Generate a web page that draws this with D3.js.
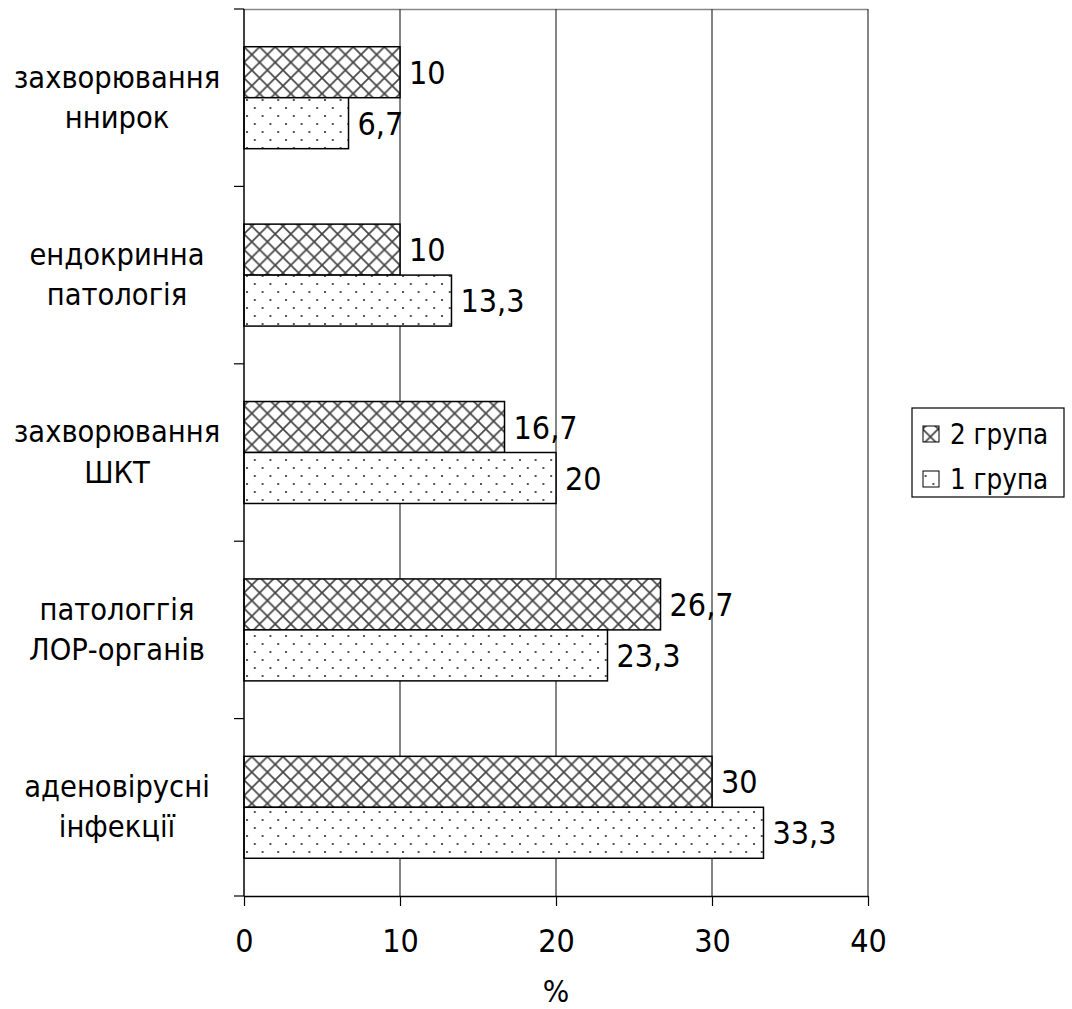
<!DOCTYPE html>
<html><head><meta charset="utf-8">
<script src="https://cdn.jsdelivr.net/npm/d3@7"></script>
<style>body{margin:0;background:#fff}svg{display:block}</style>
</head><body>
<svg id="c" width="1072" height="1009"></svg>
<script>
const categories = [["захворювання","ннирок"],["ендокринна","патологія"],["захворювання","ШКТ"],["патологгія","ЛОР-органів"],["аденовірусні","інфекції"]];
const group2 = [10, 10, 16.7, 26.7, 30];
const group1 = [6.7, 13.3, 20, 23.3, 33.3];
const seriesNames = ["2 група", "1 група"];
const xTicks = [0, 10, 20, 30, 40];
const axisTitle = "%";

const FONT = "'DejaVu Sans Condensed','DejaVu Sans',sans-serif";
const svg = d3.select("#c");
const L = 244, R = 868, T = 9, B = 896;

const defs = svg.append("defs");
const ph = defs.append("pattern").attr("id","cross").attr("patternUnits","userSpaceOnUse")
  .attr("width",15.6).attr("height",15.6).attr("x",L).attr("y",0);
ph.append("rect").attr("width",15.6).attr("height",15.6).attr("fill","#fff");
ph.append("path").attr("d","M0,0L15.6,15.6M15.6,0L0,15.6M-2,13.6L2,17.6M13.6,-2L17.6,2")
  .attr("stroke","#444").attr("stroke-width",1.7);
const pd = defs.append("pattern").attr("id","dots").attr("patternUnits","userSpaceOnUse")
  .attr("width",15.6).attr("height",16).attr("x",L+2).attr("y",3);
pd.append("rect").attr("width",15.6).attr("height",16).attr("fill","#fff");
pd.append("rect").attr("x",0).attr("y",0).attr("width",2).attr("height",2).attr("fill","#555");
pd.append("rect").attr("x",7.8).attr("y",8).attr("width",2).attr("height",2).attr("fill","#555");

const x = d3.scaleLinear().domain([0,40]).range([L,R]);
const y = d3.scaleBand().domain(d3.range(categories.length)).range([T,B]).padding(0);
const sub = d3.scaleBand().domain([0,1]).range([0,y.bandwidth()]).paddingInner(0).paddingOuter(0.74);

// top border
svg.append("line").attr("x1",L).attr("x2",R).attr("y1",T+0.5).attr("y2",T+0.5).attr("stroke","#888").attr("stroke-width",1.5);
// gridlines
svg.append("g").selectAll("line").data(xTicks.slice(1)).join("line")
  .attr("x1",d=>x(d)).attr("x2",d=>x(d)).attr("y1",T).attr("y2",B)
  .attr("stroke","#333").attr("stroke-width",1.2);

const series = [group2, group1];
const pats = ["url(#cross)","url(#dots)"];
series.forEach((vals,si)=>{
  const g = svg.append("g");
  g.selectAll("rect").data(vals).join("rect")
    .attr("x",x(0)).attr("y",(d,i)=>y(i)+sub(si))
    .attr("width",d=>x(d)-x(0)).attr("height",sub.bandwidth())
    .attr("fill",pats[si]).attr("stroke","#000").attr("stroke-width",1.5);
  g.selectAll("text").data(vals).join("text")
    .attr("x",d=>x(d)+9).attr("y",(d,i)=>y(i)+sub(si)+sub.bandwidth()/2)
    .attr("dy","0.36em").attr("font-family",FONT).attr("font-size",32)
    .text(d=>String(d).replace(".",","));
});

// y axis
const ya = svg.append("g");
ya.append("line").attr("x1",L).attr("x2",L).attr("y1",T).attr("y2",B).attr("stroke","#000").attr("stroke-width",1.5);
ya.selectAll("line.t").data(d3.range(categories.length+1)).join("line").attr("class","t")
  .attr("x1",L-10).attr("x2",L).attr("y1",i=>T+i*y.step()).attr("y2",i=>T+i*y.step())
  .attr("stroke","#000").attr("stroke-width",1.2);
ya.selectAll("text").data(categories).join("text")
  .attr("x",117).attr("y",(d,i)=>y(i)+y.bandwidth()/2)
  .attr("text-anchor","middle").attr("font-family",FONT).attr("font-size",30.5)
  .each(function(d){
    const t=d3.select(this);
    t.append("tspan").attr("x",117).attr("dy","-0.33em").text(d[0]);
    t.append("tspan").attr("x",117).attr("dy","1.32em").text(d[1]);
  });

// x axis
const xa = svg.append("g").attr("transform",`translate(0,${B})`)
  .call(d3.axisBottom(x).tickValues(xTicks).tickSize(10).tickPadding(23).tickSizeOuter(0));
xa.select(".domain").attr("stroke","#000").attr("stroke-width",1.5);
xa.selectAll(".tick line").attr("stroke","#000").attr("stroke-width",1.2);
xa.selectAll(".tick text").attr("font-family",FONT).attr("font-size",32).attr("fill","#000");

svg.append("text").attr("x",(L+R)/2).attr("y",1002).attr("text-anchor","middle")
  .attr("font-family",FONT).attr("font-size",31).text(axisTitle);

// legend
const lg = svg.append("g");
lg.append("rect").attr("x",912).attr("y",408).attr("width",152).attr("height",89)
  .attr("fill","#fff").attr("stroke","#000").attr("stroke-width",1.2);
seriesNames.forEach((n,i)=>{
  const cy = 434 + i*45;
  lg.append("rect").attr("x",923).attr("y",cy-8).attr("width",16).attr("height",16)
    .attr("fill",pats[i]).attr("stroke","#000").attr("stroke-width",1);
  lg.append("text").attr("x",950).attr("y",cy).attr("dy","0.36em")
    .attr("font-family",FONT).attr("font-size",27.5).text(n);
});
</script>
</body></html>
